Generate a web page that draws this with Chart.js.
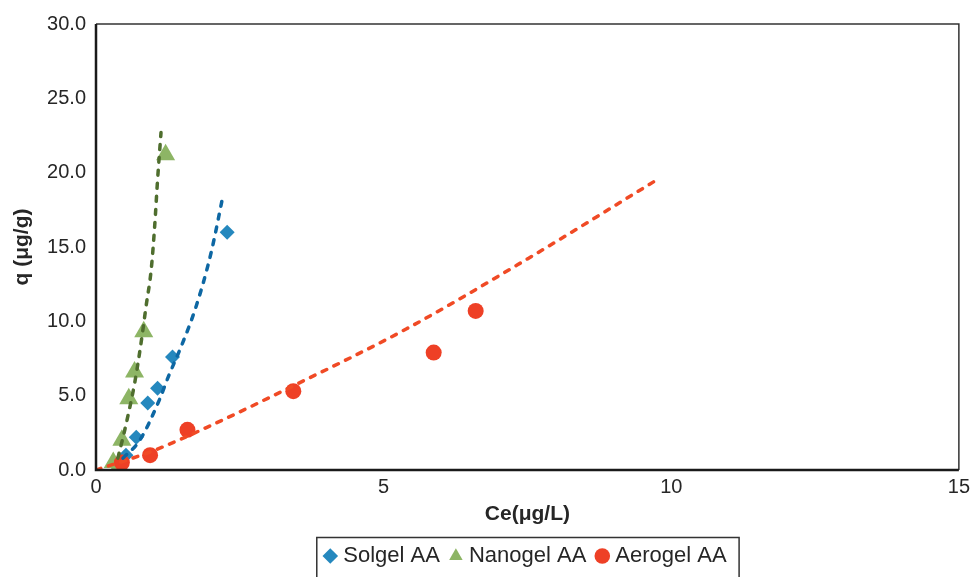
<!DOCTYPE html>
<html>
<head>
<meta charset="utf-8">
<script src="https://cdn.jsdelivr.net/npm/chart.js@4/dist/chart.umd.min.js"></script>
<style>
  html, body { margin: 0; padding: 0; background: #fff; }
  #wrap { width: 975px; height: 577px; position: relative; }
</style>
</head>
<body>
<div id="wrap"><canvas id="isotherm"></canvas></div>
<script>
// measured points (Ce in µg/L, q in µg/g)
const solgelCe = [0.52, 0.70, 0.90, 1.07, 1.33, 2.28];
const solgelQ = [1.0, 2.2, 4.5, 5.5, 7.6, 16.0];
const nanogelCe = [0.30, 0.36, 0.45, 0.57, 0.67, 0.83, 1.21];
const nanogelQ = [0.5, 0.0, 2.0, 4.8, 6.6, 9.3, 21.2];
const aerogelCe = [0.45, 0.94, 1.59, 3.43, 5.87, 6.60];
const aerogelQ = [0.5, 1.0, 2.7, 5.3, 7.9, 10.7];

// fitted curves (dashed)
const solgelFitCe = [0.47, 0.76, 1.10, 1.26, 1.48, 1.74, 2.00, 2.20];
const solgelFitQ = [0.8, 2.0, 4.7, 6.3, 8.3, 11.0, 14.6, 18.3];
const nanogelFitCe = [0.38, 0.47, 0.57, 0.67, 0.77, 0.87, 0.96, 1.02, 1.07, 1.13];
const nanogelFitQ = [0.8, 2.2, 3.9, 5.8, 8.2, 11.0, 13.5, 16.4, 19.5, 22.7];
const aerogelFitCe = [0, 1.0, 2.0, 3.45, 5.4, 7.5, 9.7];
const aerogelFitQ = [0, 1.3, 3.0, 5.7, 9.5, 14.2, 19.4];

const seriesNames = ['Solgel AA', 'Nanogel AA', 'Aerogel AA'];
const xTicks = [0, 5, 10, 15];
const yTicks = [0, 5, 10, 15, 20, 25, 30];

const txt = '#262626';
const fontName = "'Liberation Sans', Arial, sans-serif";

function pts(xs, ys) {
    return xs.map((x, i) => ({ x: x, y: ys[i] }));
}

function fitLine(xs, ys, color) {
    return {
        label: 'fit',
        data: pts(xs, ys),
        showLine: true,
        borderColor: color,
        borderWidth: 3.5,
        borderDash: [5, 8],
        borderCapStyle: 'round',
        cubicInterpolationMode: 'monotone',
        pointRadius: 0,
        pointHoverRadius: 0,
        fill: false,
        order: 0
    };
}

// plot frame + legend box
const framePlugin = {
    id: 'frame',
    afterDatasetsDraw(chart) {
        const a = chart.chartArea;
        const ctx = chart.ctx;
        ctx.save();
        ctx.strokeStyle = '#333';
        ctx.lineWidth = 1.5;
        ctx.beginPath();
        ctx.moveTo(a.left, a.top);
        ctx.lineTo(a.right, a.top);
        ctx.lineTo(a.right, a.bottom);
        ctx.stroke();
        ctx.strokeStyle = '#1a1a1a';
        ctx.lineWidth = 2.5;
        ctx.beginPath();
        ctx.moveTo(a.left, a.top);
        ctx.lineTo(a.left, a.bottom);
        ctx.lineTo(a.right, a.bottom);
        ctx.stroke();
        ctx.restore();
    },
    afterDraw(chart) {
        const boxes = chart.legend.legendHitBoxes;
        if (!boxes || !boxes.length) return;
        const l = Math.min(...boxes.map(b => b.left)) - 12;
        const r = Math.max(...boxes.map(b => b.left + b.width)) + 12;
        const t = boxes[0].top - 8;
        const ctx = chart.ctx;
        ctx.save();
        ctx.strokeStyle = '#333';
        ctx.lineWidth = 1.5;
        ctx.strokeRect(l + 0.5, t + 0.5, r - l, chart.height - t + 5);
        ctx.restore();
    }
};

new Chart(document.getElementById('isotherm'), {
    type: 'scatter',
    data: {
        datasets: [
            {
                label: seriesNames[0],
                data: pts(solgelCe, solgelQ),
                pointStyle: 'rectRot',
                pointRadius: 7.5,
                backgroundColor: '#2588BE',
                borderColor: '#2588BE',
                borderWidth: 0,
                order: 3
            },
            {
                label: seriesNames[1],
                data: pts(nanogelCe, nanogelQ),
                pointStyle: 'triangle',
                pointRadius: 11,
                backgroundColor: '#8DB565',
                borderColor: '#8DB565',
                borderWidth: 0,
                order: 2
            },
            {
                label: seriesNames[2],
                data: pts(aerogelCe, aerogelQ),
                pointStyle: 'circle',
                pointRadius: 8,
                backgroundColor: '#EE4026',
                borderColor: '#EE4026',
                borderWidth: 0,
                order: 1
            },
            fitLine(solgelFitCe, solgelFitQ, '#0D67A3'),
            fitLine(nanogelFitCe, nanogelFitQ, '#4F6E2E'),
            fitLine(aerogelFitCe, aerogelFitQ, '#F04A25')
        ]
    },
    options: {
        responsive: true,
        maintainAspectRatio: false,
        animation: false,
        layout: { padding: { top: 24, right: 15, left: 10, bottom: 0 } },
        plugins: {
            tooltip: { enabled: false },
            legend: {
                position: 'bottom',
                fullSize: false,
                labels: {
                    usePointStyle: true,
                    boxWidth: 4,
                    boxHeight: 11,
                    padding: 14,
                    color: txt,
                    font: { family: fontName, size: 22 },
                    filter: item => item.text !== 'fit',
                    sort: (a, b) => a.datasetIndex - b.datasetIndex
                }
            }
        },
        scales: {
            x: {
                type: 'linear',
                min: 0,
                max: 15,
                afterBuildTicks: s => { s.ticks = xTicks.map(v => ({ value: v })); },
                afterFit: s => { s.height = 61; },
                grid: { display: false, drawTicks: false },
                border: { display: false },
                ticks: { color: txt, padding: 5, font: { family: fontName, size: 20 } },
                title: {
                    display: true,
                    text: 'Ce(μg/L)',
                    color: txt,
                    padding: { top: 0, bottom: 4 },
                    font: { family: fontName, size: 21, weight: 'bold' }
                }
            },
            y: {
                min: 0,
                max: 30,
                afterBuildTicks: s => { s.ticks = yTicks.map(v => ({ value: v })); },
                afterFit: s => { s.width = 86; },
                grid: { display: false, drawTicks: false },
                border: { display: false },
                ticks: {
                    color: txt,
                    padding: 10,
                    font: { family: fontName, size: 20 },
                    callback: v => v.toFixed(1)
                },
                title: {
                    display: true,
                    text: 'q (μg/g)',
                    color: txt,
                    padding: { top: 0, bottom: 0 },
                    font: { family: fontName, size: 21, weight: 'bold' }
                }
            }
        }
    },
    plugins: [framePlugin]
});
</script>
</body>
</html>
